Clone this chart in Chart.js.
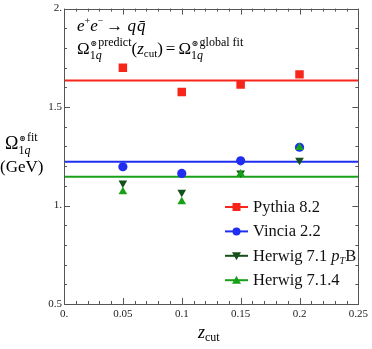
<!DOCTYPE html>
<html>
<head>
<meta charset="utf-8">
<script src="https://cdn.jsdelivr.net/npm/chart.js@4.4.0/dist/chart.umd.min.js"></script>
<style>
  html, body { margin: 0; padding: 0; background: #fff; }
  #wrap { width: 372px; height: 349px; }
</style>
</head>
<body>
<div id="wrap"><canvas id="chart" width="372" height="349"></canvas></div>
<script>
// z_cut values and fitted Omega per generator
const zcut = [0.05, 0.1, 0.15, 0.2];
const pythia = [1.70, 1.576, 1.614, 1.666];
const vincia = [1.197, 1.163, 1.227, 1.296];
const herwigPtB = [1.115, 1.067, 1.165, 1.23];
const herwig714 = [1.07, 1.019, 1.16, 1.295];

// global fit values (horizontal lines)
const globalPythia = 1.635;
const globalVincia = 1.222;
const globalHerwig = 1.146;

const xTicks = [0, 0.05, 0.1, 0.15, 0.2, 0.25];
const xTickLabels = ['0.', '0.05', '0.1', '0.15', '0.2', '0.25'];
const yTicks = [0.5, 1, 1.5, 2];
const yTickLabels = ['0.5', '1.', '1.5', '2.'];

const legendNames = ['Pythia 8.2', 'Vincia 2.2', 'Herwig 7.1 ', 'Herwig 7.1.4'];

const RED = '#f7261a';
const BLUE = '#1f2ef0';
const DKGREEN = '#15501a';
const GREEN = '#18a018';
const SERIF = "'Liberation Serif', 'DejaVu Serif', serif";

function pts(xs, ys) {
    return xs.map((x, i) => ({ x: x, y: ys[i] }));
}
function hline(v) {
    return [{ x: 0, y: v }, { x: 0.25, y: v }];
}

// draws a run of text pieces: [text, size, style, dy, extra gap]
function drawRun(ctx, x, y, parts) {
    parts.forEach(p => {
        ctx.font = (p[2] || '') + ' ' + p[1] + 'px ' + SERIF;
        ctx.fillText(p[0], x, y + (p[3] || 0));
        x += ctx.measureText(p[0]).width + (p[4] || 0);
    });
    return x;
}

// Omega with super- and subscript, returns end x
function drawOmega(ctx, x, y, size, sup, subSize) {
    x = drawRun(ctx, x, y, [['\u03A9', size, '']]);
    const a = drawRun(ctx, x + 0.5, y - size * 0.45, [['\u229B', subSize * 0.7, '', 0, 1], [sup, subSize, '']]);
    const b = drawRun(ctx, x, y + size * 0.3, [['1', subSize, ''], ['q', subSize, 'italic']]);
    return Math.max(a, b);
}

function drawMarker(ctx, type, x, y, color) {
    ctx.fillStyle = color;
    ctx.beginPath();
    if (type === 'rect') {
        ctx.rect(x - 4, y - 4, 8, 8);
    } else if (type === 'circle') {
        ctx.arc(x, y, 4, 0, Math.PI * 2);
    } else if (type === 'down') {
        ctx.moveTo(x - 4.5, y - 3.5); ctx.lineTo(x + 4.5, y - 3.5); ctx.lineTo(x, y + 4.5);
    } else {
        ctx.moveTo(x - 4.5, y + 3.5); ctx.lineTo(x + 4.5, y + 3.5); ctx.lineTo(x, y - 4.5);
    }
    ctx.closePath();
    ctx.fill();
}

const framePlugin = {
    id: 'frame',
    afterDraw(chart) {
        const ctx = chart.ctx;
        const a = chart.chartArea;
        const xs = chart.scales.x, ys = chart.scales.y;
        ctx.save();
        ctx.strokeStyle = '#555';
        ctx.lineWidth = 1;
        ctx.strokeRect(Math.round(a.left) + 0.5, Math.round(a.top) + 0.5,
            Math.round(a.right - a.left), Math.round(a.bottom - a.top));

        ctx.beginPath();
        for (let i = 0; i <= 25; i++) {
            const px = Math.round(xs.getPixelForValue(i / 100)) + 0.5;
            const len = i % 5 === 0 ? 6 : 3;
            ctx.moveTo(px, a.bottom); ctx.lineTo(px, a.bottom - len);
            ctx.moveTo(px, a.top); ctx.lineTo(px, a.top + len);
        }
        for (let i = 5; i <= 20; i++) {
            const py = Math.round(ys.getPixelForValue(i / 10)) + 0.5;
            const len = i % 5 === 0 ? 6 : 3;
            ctx.moveTo(a.left, py); ctx.lineTo(a.left + len, py);
            ctx.moveTo(a.right, py); ctx.lineTo(a.right - len, py);
        }
        ctx.stroke();

        // annotation text
        ctx.fillStyle = '#000';
        ctx.textBaseline = 'alphabetic';
        ctx.textAlign = 'left';
        drawRun(ctx, 77, 31, [
            ['e', 17, 'italic'], ['+', 10, '', -7], ['e', 17, 'italic'], ['\u2212', 10, '', -7, 3],
            ['\u2192 ', 17, ''], ['q', 17, 'italic', 0, 1], ['q\u0304', 17, 'italic']
        ]);
        let x = drawOmega(ctx, 77, 54, 17, 'predict', 12);
        x = drawRun(ctx, x, 54, [['(', 17, ''], ['z', 17, 'italic'], ['cut', 11, '', 3], [')', 17, '', 0, 3], ['=', 17, '', 0, 3]]);
        drawOmega(ctx, x, 54, 17, 'global fit', 12);

        // y title
        drawOmega(ctx, 5, 149, 18, 'fit', 12);
        drawRun(ctx, 0, 172, [['(GeV)', 17, '']]);

        // x title
        drawRun(ctx, 198, 338, [['z', 18, 'italic'], ['cut', 12, '', 3]]);

        // legend
        const types = ['rect', 'circle', 'down', 'up'];
        const colors = [RED, BLUE, DKGREEN, GREEN];
        legendNames.forEach((name, i) => {
            const ly = 207 + i * 24.4;
            ctx.strokeStyle = colors[i];
            ctx.lineWidth = 2;
            ctx.beginPath();
            ctx.moveTo(225, ly); ctx.lineTo(248, ly);
            ctx.stroke();
            drawMarker(ctx, types[i], 236.5, ly, colors[i]);
            ctx.fillStyle = '#111';
            const tx = drawRun(ctx, 253, ly + 5, [[name, 16.5, '']]);
            if (i === 2) {
                drawRun(ctx, tx, ly + 5, [['p', 16.5, 'italic'], ['T', 10, 'italic', 3], ['B', 16.5, '']]);
            }
        });
        ctx.restore();
    }
};

new Chart(document.getElementById('chart'), {
    type: 'scatter',
    data: {
        // first dataset ends up on top
        datasets: [
            { data: pts(zcut, herwig714), backgroundColor: GREEN, borderWidth: 0, pointStyle: 'triangle', pointRadius: 5 },
            { data: pts(zcut, herwigPtB), backgroundColor: DKGREEN, borderWidth: 0, pointStyle: 'triangle', rotation: 180, pointRadius: 5 },
            { data: pts(zcut, vincia), backgroundColor: BLUE, borderWidth: 0, pointStyle: 'circle', pointRadius: 4.6 },
            { data: pts(zcut, pythia), backgroundColor: RED, borderWidth: 0, pointStyle: 'rect', pointRadius: 6 },
            { data: hline(globalPythia), showLine: true, borderColor: RED, borderWidth: 2, pointRadius: 0 },
            { data: hline(globalVincia), showLine: true, borderColor: BLUE, borderWidth: 2, pointRadius: 0 },
            { data: hline(globalHerwig), showLine: true, borderColor: GREEN, borderWidth: 2, pointRadius: 0 }
        ]
    },
    options: {
        responsive: false,
        animation: false,
        layout: { padding: { top: 8, right: 11, left: 0, bottom: 0 } },
        plugins: { legend: { display: false }, tooltip: { enabled: false } },
        scales: {
            x: {
                type: 'linear', min: 0, max: 0.25,
                grid: { display: false, drawTicks: false }, border: { display: false },
                afterBuildTicks: s => { s.ticks = xTicks.map(v => ({ value: v })); },
                afterFit: s => { s.height = 45; },
                ticks: {
                    color: '#222', padding: 4, maxRotation: 0,
                    font: { family: SERIF, size: 11 },
                    callback: (v, i) => xTickLabels[i]
                }
            },
            y: {
                min: 0.5, max: 2,
                grid: { display: false, drawTicks: false }, border: { display: false },
                afterBuildTicks: s => { s.ticks = yTicks.map(v => ({ value: v })); },
                afterFit: s => { s.width = 64; },
                ticks: {
                    color: '#222', padding: 2,
                    font: { family: SERIF, size: 11 },
                    callback: (v, i) => yTickLabels[i]
                }
            }
        }
    },
    plugins: [framePlugin]
});
</script>
</body>
</html>
